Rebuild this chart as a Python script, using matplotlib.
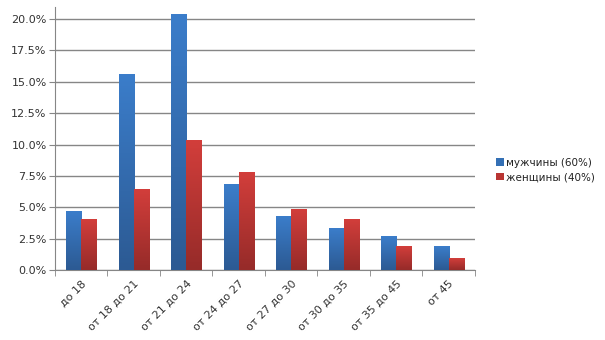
import numpy as np
import matplotlib
matplotlib.use("Agg")
import matplotlib.pyplot as plt
from matplotlib.colors import LinearSegmentedColormap
from matplotlib.ticker import FuncFormatter
from matplotlib.patches import Patch

# data
categories = ["до 18", "от 18 до 21", "от 21 до 24", "от 24 до 27",
              "от 27 до 30", "от 30 до 35", "от 35 до 45", "от 45"]
men = [4.7, 15.6, 20.4, 6.85, 4.3, 3.3, 2.7, 1.85]
women = [4.0, 6.4, 10.3, 7.8, 4.8, 4.0, 1.9, 0.9]
series_names = ["мужчины (60%)", "женщины (40%)"]

plt.rcParams['font.family'] = ['DejaVu Sans']

fig = plt.figure(figsize=(6.05, 3.4), dpi=100)
ax = fig.add_axes([0.0909, 0.206, 0.694, 0.773])

x = np.arange(len(categories))
w = 0.286

blue_cmap = LinearSegmentedColormap.from_list("b", ["#2c5a93", "#3b7dca"])
red_cmap = LinearSegmentedColormap.from_list("r", ["#962b29", "#d23e3b"])
grad = np.linspace(0, 1, 100).reshape(-1, 1)

def gradient_bars(xs, vals, cmap):
    bars = ax.bar(xs, vals, w, color="none", edgecolor="none", zorder=3)
    for b in bars:
        x0, y0 = b.get_x(), b.get_y()
        ax.imshow(grad, cmap=cmap, origin="lower", aspect="auto",
                  extent=[x0, x0 + b.get_width(), y0, y0 + b.get_height()],
                  zorder=3)

gradient_bars(x - w / 2, men, blue_cmap)
gradient_bars(x + w / 2, women, red_cmap)

ax.set_xlim(-0.5, len(categories) - 0.5)
ax.set_ylim(0, 20.95)
ax.set_yticks(np.arange(0, 20.1, 2.5))
ax.yaxis.set_major_formatter(FuncFormatter(lambda v, p: f"{v:.1f}%"))
ax.grid(axis="y", color="#868686", linewidth=1, zorder=0)

ax.set_xticks(x)
ax.set_xticklabels(categories, rotation=45, ha="right", rotation_mode="anchor")
ax.set_xticks(np.arange(-0.5, len(categories), 1), minor=True)
ax.tick_params(axis="x", which="major", length=0, pad=6)
ax.tick_params(axis="x", which="minor", length=4, color="#868686")
ax.tick_params(axis="y", length=4, color="#868686", pad=2)
ax.tick_params(labelsize=8, labelcolor="#333333")

for s in ["top", "right"]:
    ax.spines[s].set_visible(False)
for s in ["left", "bottom"]:
    ax.spines[s].set_color("#868686")

handles = [Patch(facecolor="#3470b5"), Patch(facecolor="#b93533")]
fig.legend(handles, series_names, loc="center left", bbox_to_anchor=(0.805, 0.5),
           frameon=False, fontsize=7.5, handlelength=0.7, handleheight=0.7,
           handletextpad=0.2, labelspacing=0.45, labelcolor="#222222")

fig.savefig("out.png", dpi=100)
